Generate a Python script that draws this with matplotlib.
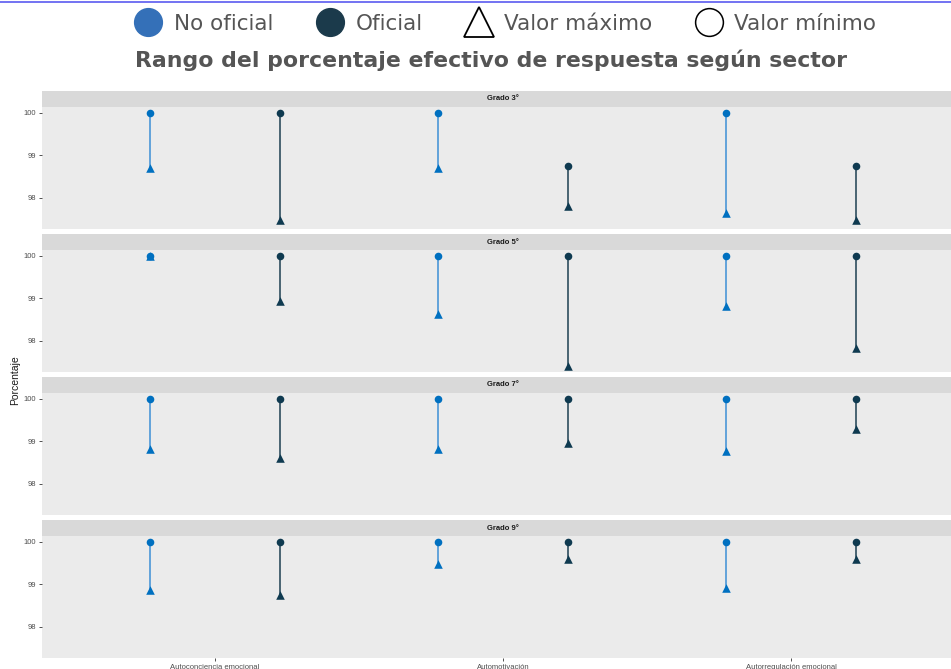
import matplotlib.pyplot as plt
from matplotlib.lines import Line2D

# datos
grados = ['Grado 3°', 'Grado 5°', 'Grado 7°', 'Grado 9°']
competencias = ['Autoconciencia emocional', 'Automotivación', 'Autorregulación emocional']
sectores = ['No oficial', 'Oficial']

# punto (circulo) por grado y competencia
circulo_no_oficial = [[100, 100, 100], [100, 100, 100], [100, 100, 100], [100, 100, 100]]
circulo_oficial = [[100, 98.74, 98.74], [100, 100, 100], [100, 100, 100], [100, 100, 100]]
# triangulo por grado y competencia
triangulo_no_oficial = [[98.71, 98.71, 97.64], [100, 98.62, 98.81], [98.81, 98.81, 98.76], [98.86, 99.48, 98.90]]
triangulo_oficial = [[97.48, 97.81, 97.48], [98.93, 97.40, 97.83], [98.60, 98.95, 99.29], [98.74, 99.60, 99.60]]

col_punto = {'No oficial': '#0070C0', 'Oficial': '#0F3A50'}
col_linea = {'No oficial': '#3D8FD6', 'Oficial': '#1E3F52'}
col_leyenda = {'No oficial': '#3470B8', 'Oficial': '#1B3A4B'}

W, H = 951, 669
fig = plt.figure(figsize=(W / 100, H / 100), dpi=100)
fig.patch.set_facecolor('white')


def rect(l, t, r, b):
    return [l / W, 1 - b / H, (r - l) / W, (b - t) / H]


# escala comun (expansion 5% como ggplot)
todos = [v for g in circulo_no_oficial + circulo_oficial + triangulo_no_oficial + triangulo_oficial for v in g]
lo, hi = min(todos), max(todos)
pad = (hi - lo) * 0.05
ylim = (lo - pad, hi + pad)

x = list(range(1, len(competencias) + 1))
dodge = 0.225
tops = [91, 234, 377, 520]
fuente = ['Liberation Sans', 'DejaVu Sans']

for i, g in enumerate(grados):
    t = tops[i]
    sax = fig.add_axes(rect(42, t, 963.8, t + 16))
    sax.set_facecolor('#D9D9D9')
    sax.set_xticks([])
    sax.set_yticks([])
    for s in sax.spines.values():
        s.set_visible(False)
    sax.text(0.5, 0.5, g, transform=sax.transAxes, ha='center', va='center',
             fontsize=5.5, fontweight='bold', color='#1A1A1A', family=fuente)

    ax = fig.add_axes(rect(42, t + 16, 963.8, t + 138))
    ax.set_facecolor('#EBEBEB')
    for s in ax.spines.values():
        s.set_visible(False)

    datos = {'No oficial': (circulo_no_oficial[i], triangulo_no_oficial[i], -dodge),
             'Oficial': (circulo_oficial[i], triangulo_oficial[i], dodge)}
    for sec in sectores:
        circ, tri, off = datos[sec]
        xs = [xx + off for xx in x]
        ax.vlines(xs, tri, circ, color=col_linea[sec], lw=1.1, zorder=2)
        ax.scatter(xs, tri, marker='^', s=38, color=col_punto[sec], zorder=3, linewidths=0)
        ax.scatter(xs, circ, marker='o', s=30, color=col_punto[sec], zorder=4, linewidths=0)

    ax.set_xlim(0.4, 3.6)
    ax.set_ylim(ylim)
    ax.set_yticks([98, 99, 100])
    ax.set_yticklabels(['98', '99', '100'], fontsize=5.5, color='#4D4D4D', family=fuente)
    ax.tick_params(axis='y', length=2.5, width=0.6, color='#333333', pad=1.5)
    ax.set_xticks(x)
    if i == len(grados) - 1:
        ax.set_xticklabels(competencias, fontsize=5.5, color='#4D4D4D', family=fuente)
        ax.tick_params(axis='x', length=2.5, width=0.6, color='#333333', pad=1.5)
    else:
        ax.set_xticklabels([])
        ax.tick_params(axis='x', length=0)

fig.text(15 / W, 1 - 380 / H, 'Porcentaje', rotation=90, ha='center', va='center',
         fontsize=7.5, color='#1A1A1A', family=fuente)

# linea azul superior
fig.add_artist(Line2D([0, 1], [1 - 1.5 / H, 1 - 1.5 / H], color='#5A5AF0', lw=1.2))

# leyenda
handles = [Line2D([], [], ls='', marker='o', markersize=20, color=col_leyenda['No oficial']),
           Line2D([], [], ls='', marker='o', markersize=20, color=col_leyenda['Oficial']),
           Line2D([], [], ls='', marker='^', markersize=22, markerfacecolor='white',
                  markeredgecolor='black', markeredgewidth=1.3),
           Line2D([], [], ls='', marker='o', markersize=20, markerfacecolor='white',
                  markeredgecolor='black', markeredgewidth=1.1)]
etiquetas = ['No oficial', 'Oficial', 'Valor máximo', 'Valor mínimo']
leg = fig.legend(handles, etiquetas, loc='center', bbox_to_anchor=(506 / W, 1 - 24 / H), ncol=4,
                 frameon=False, handlelength=1.2, handletextpad=0.6, columnspacing=2.0,
                 prop={'family': 'DejaVu Sans', 'size': 15.5})
for txt in leg.get_texts():
    txt.set_color('#555555')

fig.text(491 / W, 1 - 60 / H, 'Rango del porcentaje efectivo de respuesta según sector',
         ha='center', va='center', fontsize=15.8, fontweight='bold', color='#555555',
         family='DejaVu Sans')

fig.savefig('out.png', dpi=100)
